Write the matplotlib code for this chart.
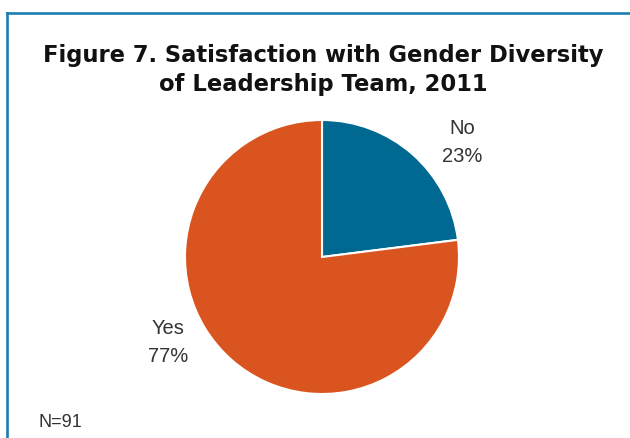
import matplotlib.pyplot as plt
from matplotlib.lines import Line2D

# Datos de la encuesta
categorias = ["No", "Yes"]
porcentajes = [23, 77]
colores = ["#006991", "#D9541E"]
titulo = "Figure 7. Satisfaction with Gender Diversity\nof Leadership Team, 2011"
nota = "N=91"

plt.rcParams['font.family'] = ['Liberation Sans', 'DejaVu Sans']

W, H = 630, 439
fig = plt.figure(figsize=(W / 100, H / 100), dpi=100)

# Marco (solo borde superior e izquierdo)
borde = "#1A7FB0"
fig.add_artist(Line2D([6.5 / W, 1], [1 - 13.5 / H, 1 - 13.5 / H], color=borde, lw=1.9,
                      transform=fig.transFigure))
fig.add_artist(Line2D([6.5 / W, 6.5 / W], [0, 1 - 13.5 / H], color=borde, lw=1.9,
                      transform=fig.transFigure))

fig.text(323 / W, 1 - 70 / H, titulo, ha="center", va="center", fontsize=16.3,
         fontweight="bold", family="DejaVu Sans", linespacing=1.3, color="#111111")

# Torta
cx, cy, r = 322, 258, 137
ax = fig.add_axes([(cx - r) / W, (H - cy - r) / H, 2 * r / W, 2 * r / H])
ax.pie(porcentajes, colors=colores, startangle=90, counterclock=False, radius=1,
       wedgeprops=dict(edgecolor="white", linewidth=1.5))
ax.set_xlim(-1, 1)
ax.set_ylim(-1, 1)
ax.set_aspect("equal")
ax.axis("off")

# Etiquetas
pos_etiquetas = [(462, 143), (168, 343)]
for cat, val, (x, y) in zip(categorias, porcentajes, pos_etiquetas):
    fig.text(x / W, 1 - y / H, f"{cat}\n{val}%", ha="center", va="center",
             fontsize=14.5, linespacing=1.6, color="#333333")

fig.text(38 / W, 1 - 423 / H, nota, ha="left", va="center", fontsize=13, color="#333333")

fig.savefig("out.png", dpi=100)
